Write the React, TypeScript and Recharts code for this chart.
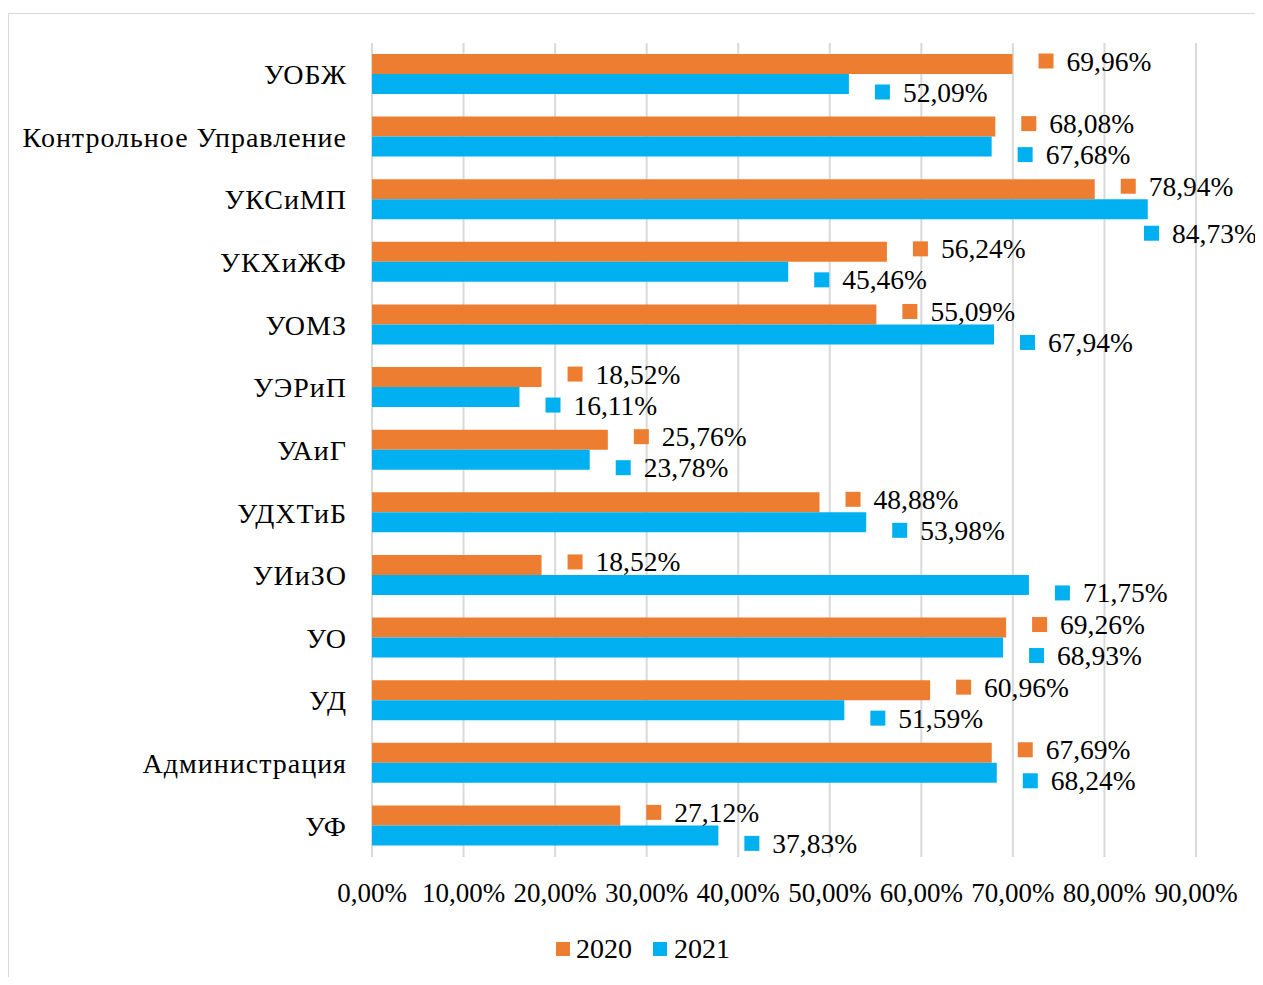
import { BarChart, Bar, XAxis, YAxis, CartesianGrid, LabelList } from 'recharts';

const categories = [
  'УОБЖ',
  'Контрольное Управление',
  'УКСиМП',
  'УКХиЖФ',
  'УОМЗ',
  'УЭРиП',
  'УАиГ',
  'УДХТиБ',
  'УИиЗО',
  'УО',
  'УД',
  'Администрация',
  'УФ',
];
const values2020 = [69.96, 68.08, 78.94, 56.24, 55.09, 18.52, 25.76, 48.88, 18.52, 69.26, 60.96, 67.69, 27.12];
const values2021 = [52.09, 67.68, 84.73, 45.46, 67.94, 16.11, 23.78, 53.98, 71.75, 68.93, 51.59, 68.24, 37.83];
const xTicks = [0, 10, 20, 30, 40, 50, 60, 70, 80, 90];

const ORANGE = '#ED7D31';
const BLUE = '#00B0F0';
const FONT = '"Liberation Serif", "Times New Roman", serif';

const data = categories.map((name, i) => ({ name, y2020: values2020[i], y2021: values2021[i] }));

const fmt = (v: number) => v.toFixed(2).replace('.', ',') + '%';

// label marker can't go further right than this, otherwise the text leaves the frame
const MAX_MARKER_X = 1136;

const makeLabel = (color: string, shift: number) => (props: any) => {
  const { x, y, width, height, value } = props;
  let mx = Number(x) + Number(width) + 26;
  let cy = Number(y) + Number(height) / 2 + shift;
  if (mx > MAX_MARKER_X) {
    mx = MAX_MARKER_X;
    cy += 16;
  }
  return (
    <g>
      <rect x={mx} y={cy - 7.5} width={15} height={15} fill={color} />
      <text x={mx + 28} y={cy} dominantBaseline="central" fontSize={27.5} fontFamily={FONT} fill="#000">
        {fmt(Number(value))}
      </text>
    </g>
  );
};

export default function App() {
  return (
    <div style={{ position: 'relative', width: 1255, height: 969, overflow: 'hidden', fontFamily: FONT }}>
      <div
        style={{
          position: 'absolute',
          left: 0,
          top: 5,
          width: 1300,
          height: 1000,
          border: '1.5px solid #D9D9D9',
        }}
      />
      <BarChart
        width={1255}
        height={969}
        data={data}
        layout="vertical"
        barGap={0}
        barSize={20}
        margin={{ top: 35, right: 67, left: 0, bottom: 60 }}
        style={{ position: 'absolute', left: 0, top: 0 }}
      >
        <CartesianGrid horizontal={false} stroke="#D9D9D9" strokeWidth={2} />
        <XAxis
          type="number"
          domain={[0, 90]}
          ticks={xTicks}
          tickFormatter={(v) => fmt(v)}
          axisLine={false}
          tickLine={false}
          tickSize={0}
          tickMargin={26}
          height={60}
          interval={0}
          tick={{ fontSize: 27, fontFamily: FONT, fill: '#000' }}
        />
        <YAxis
          type="category"
          dataKey="name"
          width={364}
          axisLine={false}
          tickLine={false}
          tickSize={0}
          tickMargin={25}
          interval={0}
          tick={{ fontSize: 28, fontFamily: FONT, fill: '#000', letterSpacing: 1 }}
        />
        <Bar dataKey="y2020" fill={ORANGE} isAnimationActive={false}>
          <LabelList dataKey="y2020" content={makeLabel(ORANGE, -3)} />
        </Bar>
        <Bar dataKey="y2021" fill={BLUE} isAnimationActive={false}>
          <LabelList dataKey="y2021" content={makeLabel(BLUE, 8)} />
        </Bar>
      </BarChart>
      <div
        style={{
          position: 'absolute',
          left: 548,
          top: 923,
          height: 36,
          display: 'flex',
          alignItems: 'center',
          fontSize: 28,
          color: '#000',
        }}
      >
        <span style={{ display: 'inline-block', width: 14, height: 14, background: ORANGE, marginRight: 6 }} />
        <span style={{ marginRight: 21 }}>2020</span>
        <span style={{ display: 'inline-block', width: 14, height: 14, background: BLUE, marginRight: 7 }} />
        <span>2021</span>
      </div>
    </div>
  );
}
